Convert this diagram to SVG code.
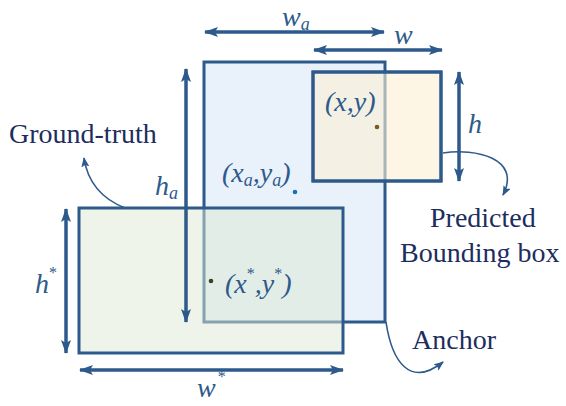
<svg xmlns="http://www.w3.org/2000/svg" width="566" height="406" viewBox="0 0 566 406">
<defs>
<style>
.box{stroke:#2d5a8b;stroke-width:3}
.dim{stroke:#2d5a8b;stroke-width:3.5;fill:none}
.call{stroke:#2d5a8b;stroke-width:1.6;fill:none}
.lbl{font-family:"Liberation Serif","Times New Roman",serif;font-size:28px;fill:#1d2d5e}
.math{font-family:"Liberation Serif","Times New Roman",serif;font-style:italic;font-size:28px;fill:#2d5a8b}
.sub{font-size:18px}
.star{font-style:normal;font-size:16px}
</style>
<marker id="ah" viewBox="0 0 14 10" refX="13" refY="5" markerWidth="14" markerHeight="10" markerUnits="userSpaceOnUse" orient="auto-start-reverse">
<path d="M0,0 L14,5 L0,10 L3,5 Z" fill="#2d5a8b"/>
</marker>
<marker id="sh" viewBox="0 0 10 8" refX="9" refY="4" markerWidth="10" markerHeight="8" markerUnits="userSpaceOnUse" orient="auto">
<path d="M0,0 L10,4 L0,8 L2,4 Z" fill="#2d5a8b"/>
</marker>
</defs>
<rect width="566" height="406" fill="#ffffff"/>

<g id="anchor">
<rect class="box" x="204" y="62" width="181" height="260" fill="#e9f1fb"/>
<circle cx="295" cy="192" r="2.3" fill="#1a6fc0"/>
<text class="math" x="222" y="182">(x<tspan class="sub" dy="4">a</tspan><tspan dy="-4">,y</tspan><tspan class="sub" dy="4">a</tspan><tspan dy="-4">)</tspan></text>
</g>

<g id="ground-truth">
<rect class="box" x="79" y="208" width="264" height="145" fill="#dde9d3" fill-opacity="0.5"/>
<circle cx="211" cy="281" r="2.3" fill="#3a4420"/>
<text class="math" x="225" y="293">(x<tspan class="star" dy="-14">*</tspan><tspan dy="14">,y</tspan><tspan class="star" dy="-14">*</tspan><tspan dy="14">)</tspan></text>
</g>

<g id="predicted">
<rect class="box" x="313" y="72" width="128" height="109" fill="#fcf0d4" fill-opacity="0.6"/>
<rect x="313" y="72" width="128" height="109" fill="none" class="box"/>
<circle cx="377" cy="127" r="2.3" fill="#7a5a20"/>
<text class="math" x="325" y="111">(x,y)</text>
</g>

<g id="connectors">
<line class="dim" x1="205" y1="32" x2="384" y2="32" marker-start="url(#ah)" marker-end="url(#ah)"/>
<line class="dim" x1="314" y1="50" x2="442" y2="50" marker-start="url(#ah)" marker-end="url(#ah)"/>
<line class="dim" x1="186" y1="69" x2="186" y2="322" marker-start="url(#ah)" marker-end="url(#ah)"/>
<line class="dim" x1="459" y1="72" x2="459" y2="181" marker-start="url(#ah)" marker-end="url(#ah)"/>
<line class="dim" x1="66" y1="209" x2="66" y2="353" marker-start="url(#ah)" marker-end="url(#ah)"/>
<line class="dim" x1="80" y1="370" x2="343" y2="370" marker-start="url(#ah)" marker-end="url(#ah)"/>
<path class="call" d="M125,208 C105,200 88,185 84,158" marker-end="url(#sh)"/>
<path class="call" d="M443,153 C475,148 522,158 503,195" marker-end="url(#sh)"/>
<path class="call" d="M386,322 C392,362 410,388 443,362" marker-end="url(#sh)"/>
</g>

<g id="labels">
<text class="math" x="282" y="26">w<tspan class="sub" dy="4">a</tspan></text>
<text class="math" x="394" y="44">w</text>
<text class="math" x="155" y="195">h<tspan class="sub" dy="4">a</tspan></text>
<text class="math" x="468" y="133">h</text>
<text class="math" x="35" y="293">h<tspan class="star" dy="-15">*</tspan></text>
<text class="math" x="197" y="397">w<tspan class="star" dy="-15" dx="2">*</tspan></text>
<text class="lbl" x="9" y="143">Ground-truth</text>
<text class="lbl" x="430" y="227">Predicted</text>
<text class="lbl" x="400" y="262">Bounding box</text>
<text class="lbl" x="412" y="349">Anchor</text>
</g>
</svg>
